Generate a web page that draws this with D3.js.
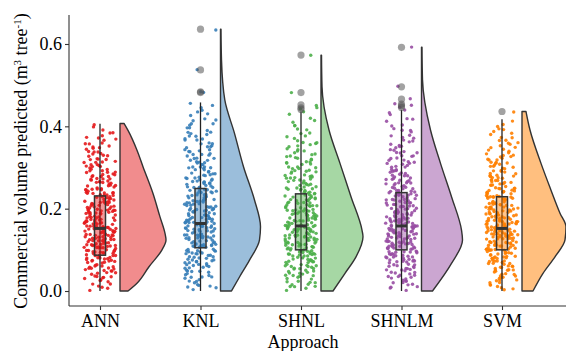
<!DOCTYPE html>
<html>
<head>
<meta charset="utf-8">
<script src="https://cdn.jsdelivr.net/npm/d3@7"></script>
<style>
  body { margin: 0; background: #fff; }
  svg text { font-family: "Liberation Serif", "Times New Roman", serif; fill: #000; }
</style>
</head>
<body>
<div id="chart"></div>
<script>
// categories and colours
const categories = ["ANN", "KNL", "SHNL", "SHNLM", "SVM"];
const colors = ["#E41A1C", "#377EB8", "#4DAF4A", "#984EA3", "#FF7F00"];

// box statistics
const whiskerLow = [0.0, 0.0, 0.0, 0.0, 0.0];
const q1 = [0.087, 0.105, 0.100, 0.100, 0.100];
const medians = [0.152, 0.164, 0.158, 0.158, 0.152];
const q3 = [0.231, 0.249, 0.236, 0.239, 0.229];
const whiskerHigh = [0.406, 0.458, 0.436, 0.440, 0.417];
const outliers = [
  [],
  [0.482, 0.484, 0.537, 0.636],
  [0.441, 0.445, 0.452, 0.482, 0.573],
  [0.446, 0.450, 0.454, 0.466, 0.496, 0.592],
  [0.436]
];

// half-violin profiles: [value, width]
const densities = [
  [[0.0, 8], [0.019, 17], [0.059, 29], [0.100, 42], [0.124, 46], [0.140, 45], [0.180, 40], [0.237, 33], [0.302, 23], [0.342, 17], [0.390, 8], [0.407, 4]],
  [[0.0, 11], [0.034, 19], [0.075, 29], [0.124, 39], [0.156, 40], [0.221, 34], [0.302, 23], [0.383, 14], [0.464, 4.3], [0.561, 1], [0.636, 0.5]],
  [[0.0, 12], [0.043, 24], [0.083, 35], [0.132, 42], [0.148, 41], [0.229, 30], [0.310, 19], [0.391, 8], [0.496, 1], [0.573, 0.5]],
  [[0.0, 11], [0.067, 30], [0.124, 41], [0.148, 40], [0.229, 30], [0.310, 19], [0.391, 9], [0.513, 1], [0.592, 0.5]],
  [[0.0, 11], [0.043, 21], [0.083, 33], [0.124, 43], [0.156, 44], [0.189, 38], [0.245, 29], [0.310, 19], [0.391, 8], [0.436, 4]]
];

const yTicks = [0, 0.2, 0.4, 0.6];
const pointsPerGroup = 290;

const width = 566, height = 351;
const svg = d3.select("#chart").append("svg")
  .attr("width", width).attr("height", height);

const x = d3.scalePoint().domain(categories).range([100, 502]);
const y = d3.scaleLinear().domain([-0.0364, 0.6704]).range([306, 15]);

// points placed at evenly spaced quantiles of each violin profile
function quantilePoints(profile, n) {
  const grid = [];
  const lo = profile[0][0], hi = profile[profile.length - 1][0];
  const steps = 400;
  const interp = d3.scaleLinear().domain(profile.map(d => d[0])).range(profile.map(d => d[1]));
  let cum = 0;
  for (let i = 0; i <= steps; i++) {
    const v = lo + (hi - lo) * i / steps;
    const dv = interp(v);
    if (i > 0) cum += (dv + grid[i - 1].d) / 2;
    grid.push({ v, d: dv, c: cum });
  }
  const out = [];
  for (let k = 0; k < n; k++) {
    const target = (k + 0.5) / n * cum;
    const j = d3.bisector(g => g.c).left(grid, target);
    out.push(grid[Math.min(j, steps)].v);
  }
  return out;
}

// deterministic scatter for the horizontal jitter
function hash(k) {
  const s = Math.sin(k * 12.9898 + 78.233) * 43758.5453;
  return s - Math.floor(s);
}

categories.forEach((cat, i) => {
  const cx = x(cat);
  const g = svg.append("g");
  const vals = quantilePoints(densities[i], pointsPerGroup)
    .filter(v => v <= whiskerHigh[i])
    .concat(outliers[i]);

  // jittered points
  g.selectAll("circle.pt").data(vals).enter().append("circle")
    .attr("class", "pt")
    .attr("cx", (d, k) => cx + (hash(k + i * 1000) * 2 - 1) * 16)
    .attr("cy", (d, k) => y(d) + (hash(k * 7 + i * 333 + 5) - 0.5) * 2)
    .attr("r", 1.7)
    .attr("fill", colors[i])
    .attr("opacity", 0.9);

  // whiskers
  g.append("line")
    .attr("x1", cx).attr("x2", cx)
    .attr("y1", y(whiskerLow[i])).attr("y2", y(whiskerHigh[i]))
    .attr("stroke", "#222").attr("stroke-width", 1.3);

  // box
  g.append("rect")
    .attr("x", cx - 5.5).attr("width", 11)
    .attr("y", y(q3[i])).attr("height", y(q1[i]) - y(q3[i]))
    .attr("fill", colors[i]).attr("fill-opacity", 0.45)
    .attr("stroke", "#333").attr("stroke-width", 1.5);
  g.append("line")
    .attr("x1", cx - 5.5).attr("x2", cx + 5.5)
    .attr("y1", y(medians[i])).attr("y2", y(medians[i]))
    .attr("stroke", "#333").attr("stroke-width", 3);

  // outliers
  g.selectAll("circle.out").data(outliers[i]).enter().append("circle")
    .attr("class", "out")
    .attr("cx", cx).attr("cy", d => y(d))
    .attr("r", 3.6)
    .attr("fill", "#555").attr("fill-opacity", 0.55);

  // half violin
  const base = cx + 20;
  const area = d3.area()
    .curve(d3.curveMonotoneY)
    .y(d => y(d[0]))
    .x0(base)
    .x1(d => base + d[1]);
  g.append("path")
    .datum(densities[i])
    .attr("d", area)
    .attr("fill", colors[i]).attr("fill-opacity", 0.5)
    .attr("stroke", "#333").attr("stroke-width", 1.4)
    .attr("stroke-linejoin", "round");
});

// axes
const yAxis = svg.append("g")
  .attr("transform", "translate(69,0)")
  .call(d3.axisLeft(y).tickValues(yTicks).tickFormat(d3.format(".1f")).tickSize(4).tickSizeOuter(0));
const xAxis = svg.append("g")
  .attr("transform", "translate(0,306)")
  .call(d3.axisBottom(x).tickSize(4).tickSizeOuter(0));
yAxis.select(".domain").attr("d", "M0,15V306");
xAxis.select(".domain").attr("d", "M69,0H566");
[yAxis, xAxis].forEach(a => {
  a.selectAll(".domain, line").attr("stroke", "#333").attr("stroke-width", 1.1);
  a.selectAll("text").style("font-size", "18px").attr("fill", "#000");
});
yAxis.selectAll("text").attr("x", -7);
xAxis.selectAll("text").attr("y", 8);

// axis titles
svg.append("text")
  .attr("x", 303).attr("y", 348)
  .attr("text-anchor", "middle")
  .style("font-size", "18px")
  .text("Approach");

const yl = svg.append("text")
  .attr("transform", "translate(27,161) rotate(-90)")
  .attr("text-anchor", "middle")
  .style("font-size", "18px");
yl.append("tspan").text("Commercial volume predicted (m");
yl.append("tspan").attr("baseline-shift", "super").style("font-size", "11px").text("3");
yl.append("tspan").text(" tree");
yl.append("tspan").attr("baseline-shift", "super").style("font-size", "11px").text("-1");
yl.append("tspan").text(")");
</script>
</body>
</html>
